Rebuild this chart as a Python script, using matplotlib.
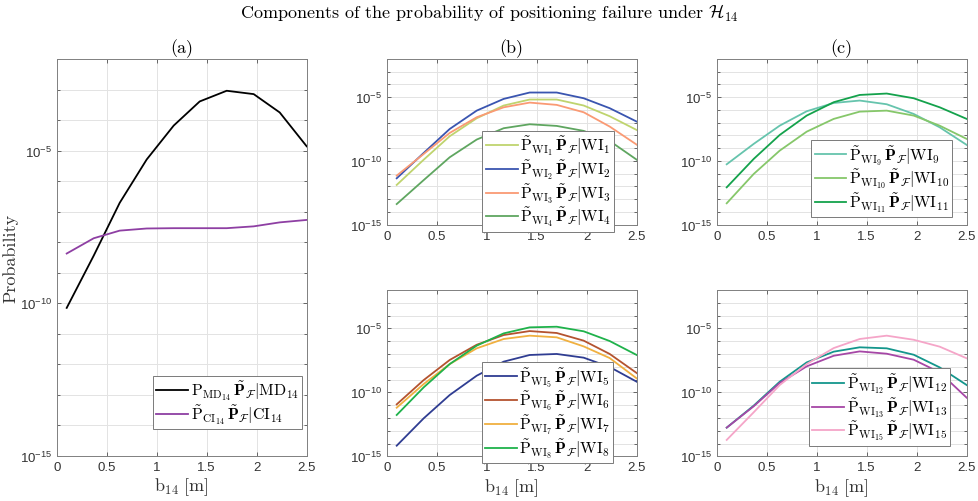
import numpy as np
import matplotlib
matplotlib.use("Agg")
from matplotlib import pyplot as plt
from matplotlib.ticker import FixedLocator, FixedFormatter, NullFormatter

plt.rcParams['mathtext.fontset'] = 'cm'
plt.rcParams['axes.unicode_minus'] = False

# baseline length b_14 [m]
b14 = [0.10, 0.37, 0.63, 0.90, 1.17, 1.43, 1.70, 1.97, 2.23, 2.50]

# log10 of each probability component
log_md = [-10.15, -8.44, -6.71, -5.29, -4.18, -3.39, -3.04, -3.15, -3.75, -4.86]
log_ci = [-8.37, -7.87, -7.62, -7.55, -7.54, -7.54, -7.54, -7.48, -7.35, -7.27]

log_wi1 = [-11.88, -9.90, -8.06, -6.65, -5.65, -5.18, -5.18, -5.65, -6.49, -7.57]
log_wi2 = [-11.36, -9.37, -7.49, -6.05, -5.13, -4.63, -4.63, -5.08, -5.86, -6.91]
log_wi3 = [-11.15, -9.45, -7.80, -6.57, -5.79, -5.42, -5.60, -6.18, -7.30, -8.72]
log_wi4 = [-13.38, -11.50, -9.71, -8.32, -7.43, -7.12, -7.25, -7.64, -8.43, -9.90]

log_wi5 = [-14.17, -12.03, -10.21, -8.70, -7.60, -7.08, -7.00, -7.29, -8.02, -9.17]
log_wi6 = [-10.94, -9.04, -7.47, -6.28, -5.52, -5.21, -5.36, -5.96, -7.00, -8.49]
log_wi7 = [-11.20, -9.35, -7.79, -6.56, -5.83, -5.57, -5.70, -6.41, -7.32, -8.91]
log_wi8 = [-11.77, -9.61, -7.79, -6.35, -5.39, -4.92, -4.87, -5.23, -5.99, -7.08]

log_wi9 = [-10.26, -8.66, -7.23, -6.10, -5.45, -5.26, -5.55, -6.31, -7.36, -8.74]
log_wi10 = [-13.32, -11.02, -9.19, -7.70, -6.70, -6.13, -6.05, -6.44, -7.23, -8.27]
log_wi11 = [-12.07, -9.84, -7.96, -6.44, -5.39, -4.82, -4.71, -5.08, -5.79, -6.70]

log_wi12 = [-12.76, -11.04, -9.17, -7.66, -6.82, -6.48, -6.56, -7.06, -8.05, -9.43]
log_wi13 = [-12.76, -11.09, -9.27, -7.97, -7.14, -6.80, -6.98, -7.45, -8.44, -10.42]
log_wi15 = [-13.72, -11.56, -9.43, -7.79, -6.54, -5.83, -5.57, -5.89, -6.43, -7.34]

x_ticks = [0, 0.5, 1, 1.5, 2, 2.5]
x_ticklabels = ['0', '0.5', '1', '1.5', '2', '2.5']
y_ticks = [1e-15, 1e-10, 1e-5]
y_ticklabels = [r'$\mathregular{10^{-15}}$', r'$\mathregular{10^{-10}}$', r'$\mathregular{10^{-5}}$']

serif = 'cmr10'
tick_font = 'Liberation Sans'

P_TIL = r'\tilde{\mathrm{P}}'
P_BOLD = r'\tilde{\mathbf{P}}_{\mathcal{F}}'


def wi_label(k):
    k = str(k)
    return ('$' + P_TIL + r'_{\mathrm{WI}_{' + k + r'}}\,' + P_BOLD
            + r'|\mathrm{WI}_{' + k + r'}$')


def style_axes(ax):
    ax.set_yscale('log')
    ax.set_xlim(0, 2.5)
    ax.set_ylim(1e-15, 1e-2)
    ax.xaxis.set_major_locator(FixedLocator(x_ticks))
    ax.xaxis.set_major_formatter(FixedFormatter(x_ticklabels))
    ax.yaxis.set_major_locator(FixedLocator(y_ticks))
    ax.yaxis.set_major_formatter(FixedFormatter(y_ticklabels))
    ax.yaxis.set_minor_locator(FixedLocator([10.0 ** e for e in range(-15, -1)]))
    ax.yaxis.set_minor_formatter(NullFormatter())
    ax.grid(True, which='both', color='#e3e3e3', lw=0.7)
    ax.set_axisbelow(True)
    ax.tick_params(which='both', direction='in', top=True, right=True,
                   colors='#333333', length=3, width=0.5, labelsize=9.5)
    ax.tick_params(which='minor', length=2)
    for lab in ax.get_xticklabels() + ax.get_yticklabels():
        lab.set_fontfamily(tick_font)
    for sp in ax.spines.values():
        sp.set_color('#808080')
        sp.set_linewidth(0.7)


def add_legend(ax, anchor):
    leg = ax.legend(loc='lower right', bbox_to_anchor=anchor, borderaxespad=0,
                    fontsize=11.5, fancybox=False, framealpha=1, edgecolor='#7a7a7a',
                    handlelength=2.0, handletextpad=0.15, labelspacing=0.02,
                    borderpad=0.2)
    leg.get_frame().set_linewidth(0.7)


W, H = 979, 502
fig = plt.figure(figsize=(W / 100, H / 100), dpi=100)


def axes_px(left, top, right, bottom):
    return fig.add_axes([left / W, 1 - bottom / H, (right - left) / W, (bottom - top) / H])


ax_a = axes_px(56.7, 60, 306.7, 457)
ax_b1 = axes_px(386.7, 60, 636.7, 225.7)
ax_b2 = axes_px(386.7, 291, 636.7, 457.3)
ax_c1 = axes_px(716.7, 60, 966.7, 225.7)
ax_c2 = axes_px(716.7, 291, 966.7, 457.3)

lw = 1.3

# (a) missed detection and correct identification
ax_a.plot(b14, np.power(10.0, log_md), color='black', lw=lw,
          label=r'$\mathrm{P}_{\mathrm{MD}_{14}}\,' + P_BOLD + r'|\mathrm{MD}_{14}$')
ax_a.plot(b14, np.power(10.0, log_ci), color='#8e3fa3', lw=lw,
          label='$' + P_TIL + r'_{\mathrm{CI}_{14}}\,' + P_BOLD + r'|\mathrm{CI}_{14}$')
style_axes(ax_a)
add_legend(ax_a, (0.982, 0.068))

# (b), (c) wrong identification components
for ax, series, colors, ks, anchor in [
    (ax_b1, [log_wi1, log_wi2, log_wi3, log_wi4],
     ['#bfd46e', '#3a55b0', '#fa9a74', '#5fa660'], [1, 2, 3, 4], (0.909, -0.042)),
    (ax_b2, [log_wi5, log_wi6, log_wi7, log_wi8],
     ['#2f3d92', '#b4532f', '#f0b040', '#1fb24b'], [5, 6, 7, 8], (0.907, -0.040)),
    (ax_c1, [log_wi9, log_wi10, log_wi11],
     ['#66c4ad', '#86c76a', '#14a24c'], [9, 10, 11], (0.942, 0.045)),
    (ax_c2, [log_wi12, log_wi13, log_wi15],
     ['#14968c', '#a647a6', '#f5a5c8'], [12, 13, 15], (0.933, 0.064)),
]:
    for s, c, k in zip(series, colors, ks):
        ax.plot(b14, np.power(10.0, s), color=c, lw=lw, label=wi_label(k))
    style_axes(ax)
    add_legend(ax, anchor)

for ax in [ax_a, ax_b2, ax_c2]:
    ax.set_xlabel(r'$\mathrm{b}_{14}\ [\mathrm{m}]$', fontsize=13, labelpad=2, color='#333333')
ax_a.set_ylabel('Probability', fontsize=13, fontfamily=serif, color='#333333')
ax_a.yaxis.set_label_coords(-0.155, 0.5)

for ax, t in [(ax_a, '(a)'), (ax_b1, '(b)'), (ax_c1, '(c)')]:
    ax.set_title(t, fontsize=13, fontfamily=serif, pad=5)

fig.text(0.5, 1 - 13 / H, r'Components of the probability of positioning failure under $\mathcal{H}_{14}$',
         ha='center', va='center', fontsize=13, fontfamily=serif)

fig.savefig('out.png', dpi=100)
